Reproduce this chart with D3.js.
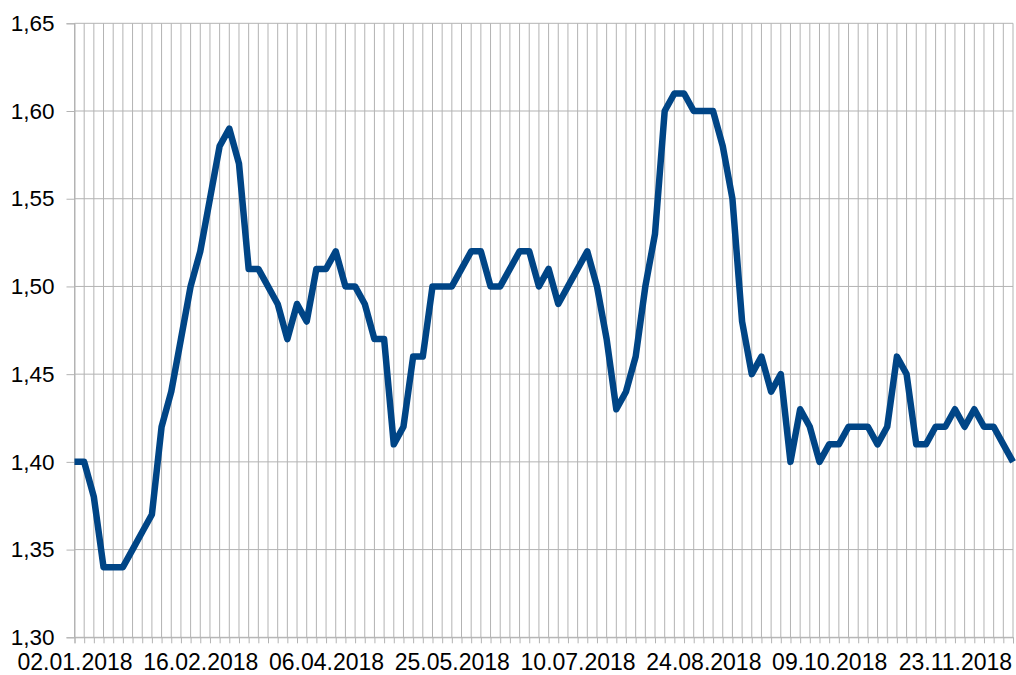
<!DOCTYPE html>
<html>
<head>
<meta charset="utf-8">
<script src="https://cdn.jsdelivr.net/npm/d3@7"></script>
<style>
  body { margin: 0; background: #fff; }
  text { font-family: "Liberation Sans", Arial, sans-serif; }
</style>
</head>
<body>
<div id="chart"></div>
<script>
// Data (twice-weekly readings, one label every 13 points)
const values = [
  1.40, 1.40, 1.38, 1.34, 1.34, 1.34, 1.35, 1.36, 1.37, 1.42,
  1.44, 1.47, 1.50, 1.52, 1.55, 1.58, 1.59, 1.57, 1.51, 1.51,
  1.50, 1.49, 1.47, 1.49, 1.48, 1.51, 1.51, 1.52, 1.50, 1.50,
  1.49, 1.47, 1.47, 1.41, 1.42, 1.46, 1.46, 1.50, 1.50, 1.50,
  1.51, 1.52, 1.52, 1.50, 1.50, 1.51, 1.52, 1.52, 1.50, 1.51,
  1.49, 1.50, 1.51, 1.52, 1.50, 1.47, 1.43, 1.44, 1.46, 1.50,
  1.53, 1.60, 1.61, 1.61, 1.60, 1.60, 1.60, 1.58, 1.55, 1.48,
  1.45, 1.46, 1.44, 1.45, 1.40, 1.43, 1.42, 1.40, 1.41, 1.41,
  1.42, 1.42, 1.42, 1.41, 1.42, 1.46, 1.45, 1.41, 1.41, 1.42,
  1.42, 1.43, 1.42, 1.43, 1.42, 1.42, 1.41, 1.40
];
const xTickLabels = ["02.01.2018", "16.02.2018", "06.04.2018", "25.05.2018",
  "10.07.2018", "24.08.2018", "09.10.2018", "23.11.2018"];
const labelEvery = 13;
const yTicks = [1.30, 1.35, 1.40, 1.45, 1.50, 1.55, 1.60, 1.65];

const W = 1016, H = 675;
const margin = {top: 23.3, right: 3, bottom: 37.7, left: 74.5};
const width = W - margin.left - margin.right,
      height = H - margin.top - margin.bottom;
const gridColor = "#b3b3b3";

const svg = d3.select("#chart")
  .append("svg")
    .attr("width", W)
    .attr("height", H)
  .append("g")
    .attr("transform", `translate(${margin.left},${margin.top})`);

const x = d3.scaleLinear()
  .domain([0, values.length - 1])
  .range([0, width]);

const y = d3.scaleLinear()
  .domain([1.30, 1.65])
  .range([height, 0]);

// vertical grid
svg.append("g")
  .selectAll("line")
  .data(d3.range(values.length))
  .join("line")
    .attr("x1", d => x(d)).attr("x2", d => x(d))
    .attr("y1", 0).attr("y2", height)
    .attr("stroke", gridColor)
    .attr("stroke-width", 1);

// horizontal grid
svg.append("g")
  .selectAll("line")
  .data(yTicks)
  .join("line")
    .attr("x1", 0).attr("x2", width)
    .attr("y1", d => y(d)).attr("y2", d => y(d))
    .attr("stroke", gridColor)
    .attr("stroke-width", 1);

// Y axis
const yAxis = svg.append("g")
  .call(d3.axisLeft(y)
    .tickValues(yTicks)
    .tickSize(8)
    .tickPadding(12)
    .tickFormat(d => d3.format(".2f")(d).replace(".", ",")));
yAxis.select(".domain").attr("stroke", gridColor);
yAxis.selectAll(".tick line").attr("stroke", gridColor);
yAxis.selectAll("text")
  .attr("font-size", 22.5)
  .attr("fill", "#000")
  .style("font-family", "'Liberation Sans', Arial, sans-serif");

// X axis
const xAxis = svg.append("g")
  .attr("transform", `translate(0,${height})`)
  .call(d3.axisBottom(x)
    .tickValues(d3.range(values.length))
    .tickSize(6)
    .tickPadding(10.5)
    .tickFormat(i => i % labelEvery === 0 ? (xTickLabels[i / labelEvery] || "") : ""));
xAxis.select(".domain").attr("stroke", gridColor);
xAxis.selectAll(".tick line").attr("stroke", gridColor);
xAxis.selectAll("text")
  .attr("font-size", 23)
  .attr("fill", "#000")
  .style("font-family", "'Liberation Sans', Arial, sans-serif");

// the line
svg.append("path")
  .datum(values)
  .attr("fill", "none")
  .attr("stroke", "#004586")
  .attr("stroke-width", 6.5)
  .attr("stroke-linejoin", "round")
  .attr("d", d3.line()
    .x((d, i) => x(i))
    .y(d => y(d)));
</script>
</body>
</html>
